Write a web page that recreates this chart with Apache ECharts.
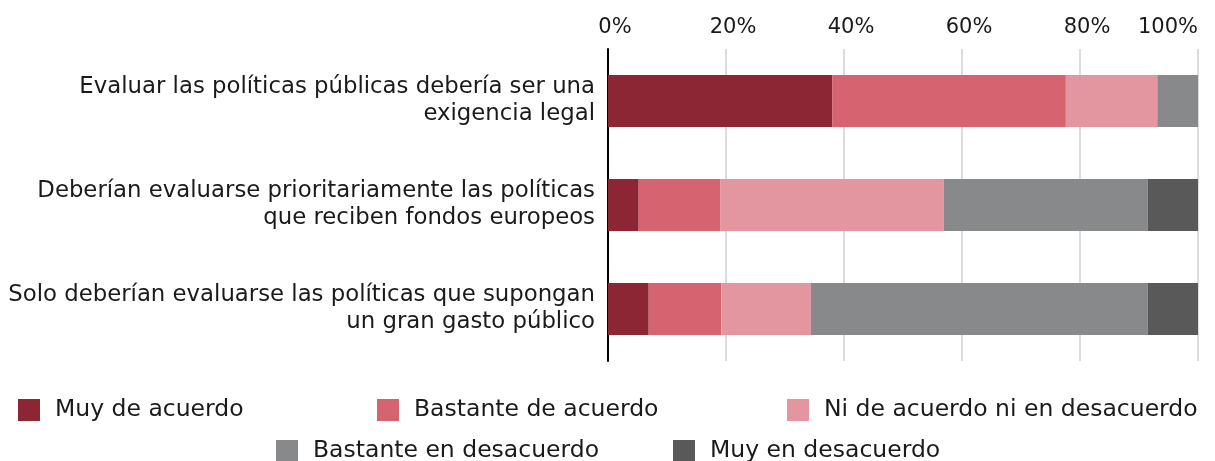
<!DOCTYPE html>
<html>
<head>
<meta charset="utf-8">
<script src="https://cdn.jsdelivr.net/npm/echarts@6/dist/echarts.min.js"></script>
<style>
  html, body { margin: 0; padding: 0; background: #fff; }
  #chart { width: 1215px; height: 461px; }
</style>
</head>
<body>
<div id="chart"></div>
<script>
// categories, top to bottom
const categories = [
  'Evaluar las políticas públicas debería ser una\nexigencia legal',
  'Deberían evaluarse prioritariamente las políticas\nque reciben fondos europeos',
  'Solo deberían evaluarse las políticas que supongan\nun gran gasto público'
];
const seriesNames = [
  'Muy de acuerdo',
  'Bastante de acuerdo',
  'Ni de acuerdo ni en desacuerdo',
  'Bastante en desacuerdo',
  'Muy en desacuerdo'
];
// percentages per category, same order as categories
const muyAcuerdo = [38.0, 5.2, 6.9];
const bastanteAcuerdo = [39.6, 13.8, 12.3];
const niNi = [15.5, 37.9, 15.2];
const bastanteDesacuerdo = [6.9, 34.6, 57.1];
const muyDesacuerdo = [0, 8.5, 8.5];
const xTicks = [0, 20, 40, 60, 80, 100];

const colors = ['#8c2634', '#d66370', '#e496a0', '#88898b', '#595959'];
const values = [muyAcuerdo, bastanteAcuerdo, niNi, bastanteDesacuerdo, muyDesacuerdo];
const font = 'DejaVu Sans';

const chart = echarts.init(document.getElementById('chart'));

// one legend per item so each sits where the reference puts it
const legendPos = [
  { left: 18, top: 398 },
  { left: 377, top: 398 },
  { left: 787, top: 398 },
  { left: 276, top: 439 },
  { left: 673, top: 439 }
];

const option = {
  animation: false,
  color: colors,
  grid: { left: 608, right: 17, top: 49, bottom: 100, outerBoundsMode: 'none' },
  legend: legendPos.map((p, i) => ({
    data: [seriesNames[i]],
    left: p.left,
    top: p.top,
    icon: 'rect',
    itemWidth: 22,
    itemHeight: 22,
    itemGap: 14,
    padding: 0,
    textStyle: { fontFamily: font, fontSize: 23.5, color: '#1a1a1a', padding: [0, 0, 0, 10] }
  })),
  xAxis: {
    type: 'value',
    position: 'top',
    min: 0,
    max: 100,
    interval: 20,
    axisLine: { show: false },
    axisTick: { show: false },
    splitLine: { lineStyle: { color: '#d0d0d0', width: 1.5 } },
    axisLabel: {
      margin: 11,
      fontFamily: font,
      fontSize: 21,
      color: '#1a1a1a',
      padding: [0, 0, 0, 14],
      alignMaxLabel: 'right',
      formatter: (v) => (xTicks.indexOf(v) >= 0 ? v + '%' : '')
    }
  },
  yAxis: {
    type: 'category',
    inverse: true,
    data: categories,
    axisLine: { lineStyle: { color: '#000', width: 2 } },
    axisTick: { show: false },
    axisLabel: {
      margin: 13,
      fontFamily: font,
      fontSize: 22.8,
      lineHeight: 27,
      color: '#1a1a1a',
      align: 'right'
    }
  },
  series: seriesNames.map((name, i) => ({
    name: name,
    type: 'bar',
    stack: 'total',
    barWidth: '50%',
    data: values[i],
    itemStyle: { color: colors[i] }
  }))
};

chart.setOption(option);
</script>
</body>
</html>
